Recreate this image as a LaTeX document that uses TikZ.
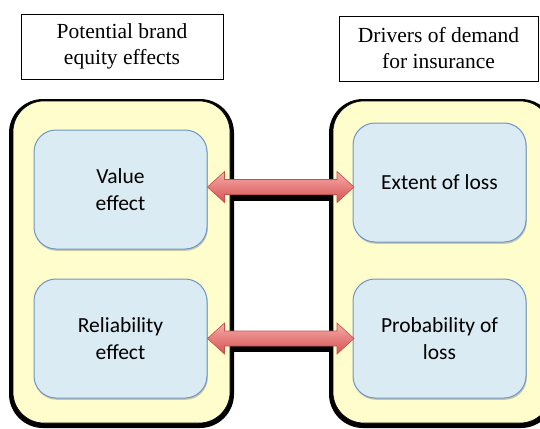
\documentclass[tikz,border=0pt]{standalone}
\usepackage{fontspec}
\setmainfont{Liberation Serif}
\newfontfamily\bodyfont{Carlito}
\usetikzlibrary{calc,shadows}

\definecolor{panelfill}{RGB}{255,253,204}
\definecolor{cardfill}{RGB}{218,235,243}
\definecolor{carddraw}{RGB}{108,150,200}
\definecolor{arrowtop}{RGB}{247,172,170}
\definecolor{arrowbot}{RGB}{212,82,82}
\definecolor{arrowdraw}{RGB}{192,80,77}

\tikzset{
  headbox/.style={draw=black, line width=0.9pt, fill=white,
    font=\fontsize{21.5}{26}\selectfont, align=center, inner sep=0pt},
  panelshadow/.style={fill=black, rounded corners=34pt, inner sep=0pt},
  panel/.style={fill=panelfill, draw=black, line width=0.6pt,
    rounded corners=31pt, inner sep=0pt},
  card/.style={fill=cardfill, draw=carddraw, line width=1pt,
    rounded corners=22pt, inner sep=0pt, align=center,
    font=\bodyfont\fontsize{21.5}{27}\selectfont,
    drop shadow={shadow xshift=0.8pt, shadow yshift=-1.8pt, opacity=0.35, fill=black!60}},
  bigarrow/.style={draw=arrowdraw, line width=0.6pt,
    top color=arrowtop, bottom color=arrowbot, line join=miter},
  link/.style={draw=black, line width=7.5pt}
}

\begin{document}
\begin{tikzpicture}[x=1pt, y=-1pt]
\useasboundingbox (0,0) rectangle (540,428);
\clip (0,0) rectangle (540,428);

% column headings
\node[headbox, minimum width=202pt, minimum height=65pt] (hl) at (122,46.5)
  {Potential brand\\equity effects};
\node[headbox, minimum width=199pt, minimum height=65pt] (hr) at (438.5,48.5)
  {Drivers of demand\\for insurance};

% dark backing of the two panels
\node[panelshadow, minimum width=225pt, minimum height=329pt] (lsh) at (121.5,263.5) {};
\node[panelshadow, minimum width=226pt, minimum height=329pt] (rsh) at (442,263.5) {};

% black links running between the panels
\coordinate (ly1) at (0,197.5);
\coordinate (ly2) at (0,348.5);
\draw[link] (lsh.east |- ly1) -- (rsh.west |- ly1);
\draw[link] (lsh.east |- ly2) -- (rsh.west |- ly2);

% the two panels
\node[panel, minimum width=217pt, minimum height=322pt] (lp) at (121.5,262) {};
\node[panel, minimum width=218pt, minimum height=322pt] (rp) at (442,262) {};

% cards
\node[card, minimum width=173pt, minimum height=119pt] (v) at (120.5,189.5) {Value\\effect};
\node[card, minimum width=173pt, minimum height=119pt] (r) at (120.5,338.5) {Reliability\\effect};
\node[card, minimum width=173pt, minimum height=119pt] (e) at (439.5,182.5) {Extent of loss};
\node[card, minimum width=173pt, minimum height=119pt] (p) at (439.5,338.5) {Probability of\\loss};

% double-headed arrows between the cards
\coordinate (ay1) at (0,187);
\coordinate (ay2) at (0,338.5);
\foreach \a/\b/\yy in {v/e/ay1, r/p/ay2}{
  \coordinate (tl) at (\a.east |- \yy);
  \coordinate (tr) at ([xshift=1.5pt]\b.west |- \yy);
  \path[bigarrow] (tl) -- ++(17,-15.5) -- ++(0,8)
    -- ($(tr)+(-17,-7.5)$) -- ++(0,-8) -- (tr)
    -- ++(-17,15.5) -- ++(0,-8)
    -- ($(tl)+(17,7.5)$) -- ++(0,8) -- cycle;
}
\end{tikzpicture}
\end{document}
